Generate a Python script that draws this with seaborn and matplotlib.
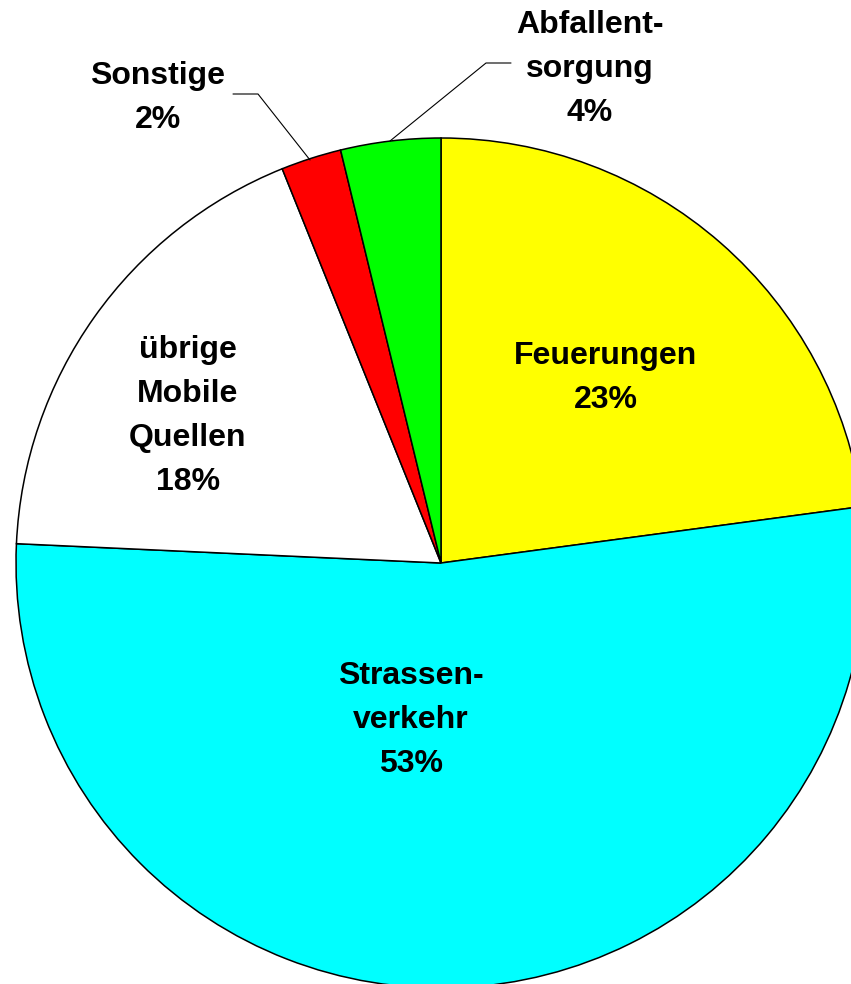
import matplotlib
matplotlib.use("Agg")
import matplotlib.pyplot as plt
import seaborn as sns

sns.set_theme(style="white")
plt.rcParams['font.family'] = ['Liberation Sans', 'DejaVu Sans']

# Data (clockwise from 12 o'clock)
categories = ["Feuerungen", "Strassenverkehr", "übrige Mobile Quellen", "Sonstige", "Abfallentsorgung"]
values = [22.9, 52.9, 18.2, 2.3, 3.8]
labels = ["Feuerungen\n23%", "Strassen-\nverkehr\n53%", "übrige\nMobile\nQuellen\n18%", "Sonstige\n2%", "Abfallent-\nsorgung\n4%"]
colors = ["#ffff00", "#00ffff", "#ffffff", "#ff0000", "#00ff00"]

W, H = 851, 984
fig = plt.figure(figsize=(W / 100, H / 100), dpi=100)
fig.patch.set_facecolor("white")

cx, cy, r = 441, 563, 425
ax = fig.add_axes([(cx - r) / W, (H - cy - r) / H, 2 * r / W, 2 * r / H])
ax.pie(values, colors=colors, startangle=90, counterclock=False,
       wedgeprops=dict(edgecolor="black", linewidth=1.1))
ax.set_xlim(-1, 1)
ax.set_ylim(-1, 1)
ax.set_aspect("equal")
ax.axis("off")

def fig_xy(px, py):
    return px / W, 1 - py / H

label_pos = [(606, 378), (411, 720), (188, 416), (158, 98), (590, 69)]
for lab, (px, py) in zip(labels, label_pos):
    fx, fy = fig_xy(px, py)
    fig.text(fx, fy, lab, ha="center", va="center", fontsize=23, fontweight="bold",
             linespacing=1.62, color="black")

# leader lines (figure pixel coords)
leaders = [
    [(233, 94), (258, 94), (310, 160)],
    [(511, 63), (486, 63), (390, 141)],
]
for pts in leaders:
    xs = [p[0] / W for p in pts]
    ys = [1 - p[1] / H for p in pts]
    fig.add_artist(plt.Line2D(xs, ys, color="black", linewidth=0.8))

fig.savefig("out.png", dpi=100)
